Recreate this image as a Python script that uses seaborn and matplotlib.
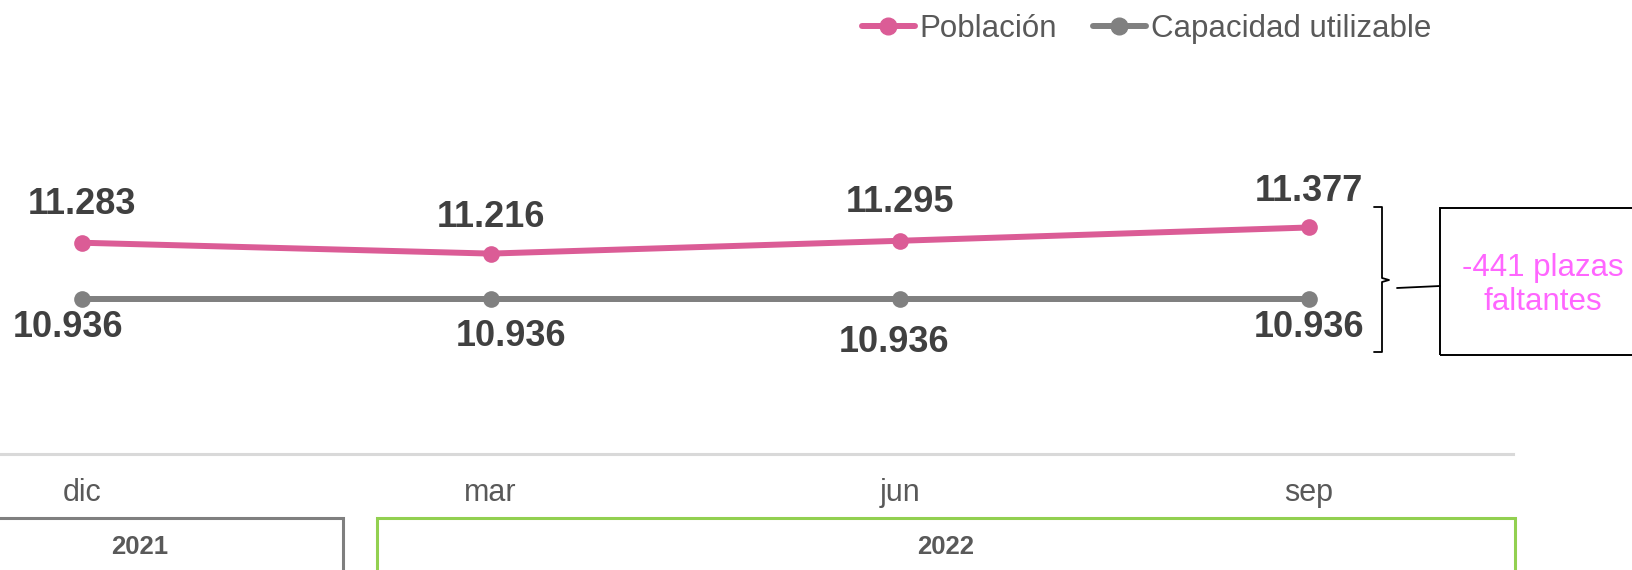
import matplotlib
matplotlib.use("Agg")
import matplotlib.pyplot as plt
from matplotlib.patches import Rectangle
from matplotlib.lines import Line2D
import pandas as pd
import seaborn as sns

# data
months = ["dic", "mar", "jun", "sep"]
poblacion = [11283, 11216, 11295, 11377]
capacidad = [10936, 10936, 10936, 10936]
years = ["2021", "2022"]
gap_text = "-441 plazas\nfaltantes"

# label offsets in pixels (dx, dy), as placed in the original
pob_offsets = [(0, 38), (0, 36), (0, 38), (0, 36)]
cap_offsets = [(-14, -29), (20, -38), (-6, -44), (0, -29)]

W, H = 1633, 570
PINK = "#DB5C96"
GRAY = "#808080"
LABEL = "#404040"

sns.set_style("white")
plt.rcParams["font.family"] = ["Liberation Sans", "DejaVu Sans"]

df = pd.DataFrame({
    "mes": months * 2,
    "valor": poblacion + capacidad,
    "serie": ["Población"] * 4 + ["Capacidad utilizable"] * 4,
})

fig = plt.figure(figsize=(W / 100, H / 100), dpi=100)


def fx(px):
    return px / W


def fy(py):
    return 1 - py / H


ax = fig.add_axes([0, fy(454), fx(1513), (454 - 60) / H])
sns.lineplot(data=df, x="mes", y="valor", hue="serie", sort=False,
             palette={"Población": PINK, "Capacidad utilizable": GRAY},
             marker="o", markersize=12, markeredgewidth=0, linewidth=4.3,
             legend=False, ax=ax)

ax.set_xlim(-0.2, 3.5)
ax.set_ylim(9980, 12410)
ax.set_xlabel("")
ax.set_ylabel("")
ax.set_yticks([])
for s in ["top", "left", "right"]:
    ax.spines[s].set_visible(False)
ax.spines["bottom"].set_color("#d9d9d9")
ax.spines["bottom"].set_linewidth(2.2)
ax.tick_params(axis="x", length=0, pad=17, labelsize=22, labelcolor="#595959")


def fmt(v):
    return f"{v:,}".replace(",", ".")


for i, v in enumerate(poblacion):
    ax.annotate(fmt(v), (i, v), xytext=pob_offsets[i], textcoords="offset pixels",
                ha="center", va="center", fontsize=26, fontweight="bold", color=LABEL)
for i, v in enumerate(capacidad):
    ax.annotate(fmt(v), (i, v), xytext=cap_offsets[i], textcoords="offset pixels",
                ha="center", va="center", fontsize=26, fontweight="bold", color=LABEL)

# legend
handles = [
    Line2D([], [], color=PINK, lw=4.3, marker="o", ms=12),
    Line2D([], [], color=GRAY, lw=4.3, marker="o", ms=12),
]
fig.legend(handles, ["Población", "Capacidad utilizable"], loc="center right",
           bbox_to_anchor=(fx(1431), fy(29)), ncol=2, frameon=False,
           fontsize=22.5, handlelength=1.7, handletextpad=0.15, columnspacing=1.15,
           borderpad=0, borderaxespad=0, labelcolor="#595959")

# year boxes
fig.patches.append(Rectangle((fx(-4), fy(575)), fx(347), (575 - 518) / H,
                             transform=fig.transFigure, fill=False,
                             edgecolor="#7f7f7f", lw=2.2))
fig.patches.append(Rectangle((fx(377), fy(575)), fx(1515 - 377), (575 - 518) / H,
                             transform=fig.transFigure, fill=False,
                             edgecolor="#92d050", lw=2.2))
fig.text(fx(140), fy(547), years[0], ha="center", va="center",
         fontsize=18.5, fontweight="bold", color="#595959")
fig.text(fx(946), fy(547), years[1], ha="center", va="center",
         fontsize=18.5, fontweight="bold", color="#595959")

# bracket and gap box
bx = [fx(1374), fx(1382), fx(1382), fx(1389), fx(1382), fx(1382), fx(1374)]
by = [fy(207), fy(207), fy(278), fy(280), fy(282), fy(352), fy(352)]
fig.lines.append(Line2D(bx, by, transform=fig.transFigure, color="black", lw=1.3))
fig.lines.append(Line2D([fx(1397), fx(1440)], [fy(288), fy(286)],
                        transform=fig.transFigure, color="black", lw=1.3))
fig.patches.append(Rectangle((fx(1440), fy(355)), fx(220), (355 - 208) / H,
                             transform=fig.transFigure, fill=False,
                             edgecolor="black", lw=1.4))
fig.text(fx(1543), fy(285), gap_text, ha="center", va="center",
         fontsize=22.5, color="#ff66ff", linespacing=1.15)

fig.savefig("out.png", dpi=100)
